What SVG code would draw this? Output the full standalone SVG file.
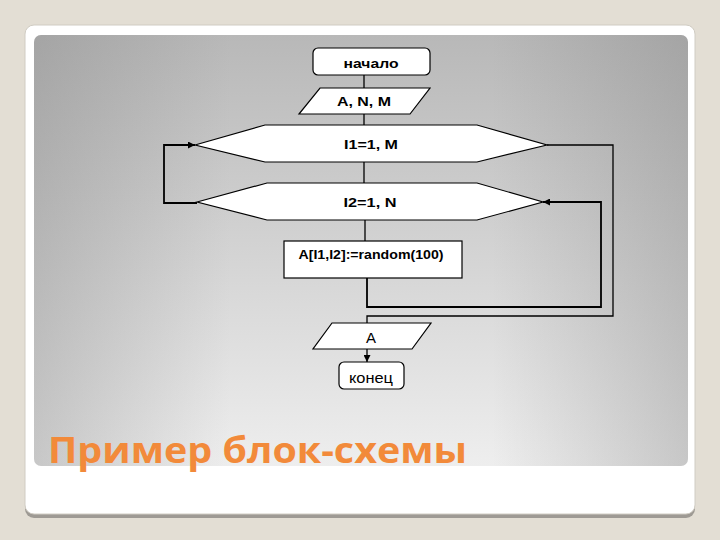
<svg xmlns="http://www.w3.org/2000/svg" width="720" height="540" viewBox="0 0 720 540">
<defs>
<linearGradient id="vg" x1="0" y1="0" x2="0" y2="1">
<stop offset="0" stop-color="#b8b8b8"/>
<stop offset="0.55" stop-color="#d6d6d6"/>
<stop offset="1" stop-color="#eeeeee"/>
</linearGradient>
<linearGradient id="hg" x1="0" y1="0" x2="1" y2="0">
<stop offset="0" stop-color="#808080" stop-opacity="0.35"/>
<stop offset="0.3" stop-color="#808080" stop-opacity="0"/>
<stop offset="0.7" stop-color="#808080" stop-opacity="0"/>
<stop offset="1" stop-color="#808080" stop-opacity="0.35"/>
</linearGradient>
<marker id="arr" viewBox="0 0 10 10" refX="10" refY="5" markerWidth="7" markerHeight="7" markerUnits="userSpaceOnUse" orient="auto">
<path d="M0,0 L10,5 L0,10 z" fill="#000"/>
</marker>
</defs>
<style>
.shape{fill:#fff;stroke:#000;stroke-width:1.2}
.lbl{font-family:"Liberation Sans",Arial,sans-serif;font-size:13px;font-weight:bold;fill:#000;text-anchor:middle}
.reg{font-family:"Liberation Sans",Arial,sans-serif;font-size:15px;fill:#000;text-anchor:middle}
.con{fill:none;stroke:#000;stroke-width:1.3}
.loop{fill:none;stroke:#000;stroke-width:1.8}
</style>
<rect x="0" y="0" width="720" height="540" fill="#e3ded4"/>
<rect x="25" y="27" width="670" height="491" rx="9" fill="#9e9a94"/>
<rect x="25" y="25" width="670" height="489" rx="9" fill="#ffffff" stroke="#d0ccc3" stroke-width="1"/>
<rect x="34" y="35" width="654" height="431" rx="7" fill="url(#vg)"/>
<rect x="34" y="35" width="654" height="431" rx="7" fill="url(#hg)"/>
<text x="48" y="463" textLength="419" lengthAdjust="spacingAndGlyphs" font-family="'Open Sans','DejaVu Sans',sans-serif" font-size="36" font-weight="bold" fill="#f28a3a">Пример блок-схемы</text>

<g id="connectors">
<line class="con" x1="364" y1="75" x2="364" y2="88"/>
<line class="con" x1="364" y1="114" x2="364" y2="125"/>
<line class="con" x1="364" y1="162" x2="364" y2="183"/>
<line class="con" x1="365" y1="220" x2="365" y2="241"/>
<polyline class="loop" points="367,278 367,307 601,307 601,202 543,202" marker-end="url(#arr)"/>
<polyline class="loop" points="197,203 164,203 164,145 195,145" marker-end="url(#arr)"/>
<polyline class="con" points="547,145 613,145 613,316 367,316 367,323"/>
<line class="con" x1="367" y1="349" x2="367" y2="362" marker-end="url(#arr)"/>
</g>

<g id="start">
<rect class="shape" x="313" y="48" width="117" height="27" rx="5"/>
<text class="lbl" x="371" y="68" font-size="15" textLength="55" lengthAdjust="spacingAndGlyphs">начало</text>
</g>
<g id="input">
<polygon class="shape" points="320,88 430,88 410,114 299,114"/>
<text class="lbl" x="364" y="106" textLength="54" lengthAdjust="spacingAndGlyphs">A, N, M</text>
</g>
<g id="loop1">
<polygon class="shape" points="195,145 265,125 477,125 547,145 477,162 265,162"/>
<text class="lbl" x="371" y="149" textLength="54" lengthAdjust="spacingAndGlyphs">I1=1, M</text>
</g>
<g id="loop2">
<polygon class="shape" points="197,202 267,183 477,183 543,202 477,220 267,220"/>
<text class="lbl" x="370" y="207" textLength="53" lengthAdjust="spacingAndGlyphs">I2=1, N</text>
</g>
<g id="assign">
<rect class="shape" x="284" y="241" width="178" height="37"/>
<text class="lbl" x="371" y="259" textLength="145" lengthAdjust="spacingAndGlyphs" font-size="14">A[I1,I2]:=random(100)</text>
</g>
<g id="output">
<polygon class="shape" points="332,323 431,323 412,349 313,349"/>
<text class="reg" x="371" y="343">A</text>
</g>
<g id="end">
<rect class="shape" x="339" y="362" width="65" height="27" rx="5"/>
<text class="reg" x="371" y="383" font-size="16" textLength="44" lengthAdjust="spacingAndGlyphs">конец</text>
</g>
</svg>
